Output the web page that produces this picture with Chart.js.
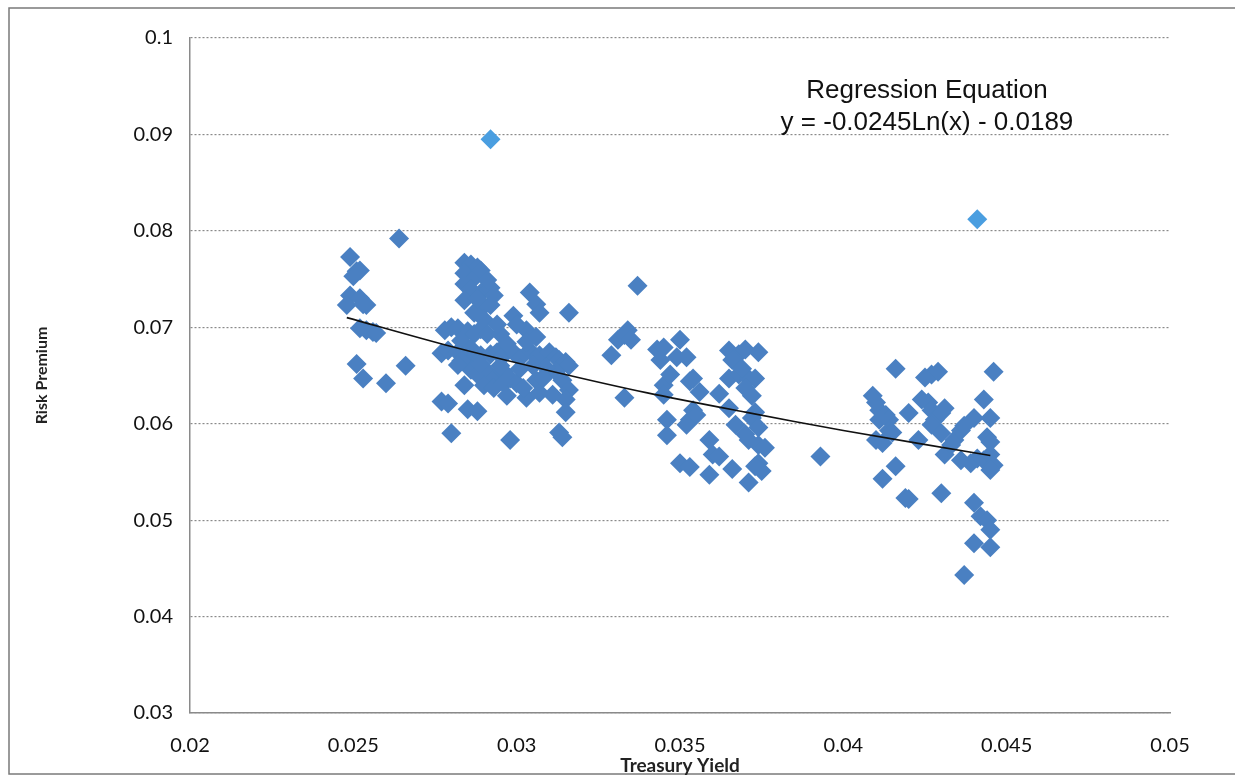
<!DOCTYPE html>
<html>
<head>
<meta charset="utf-8">
<script src="https://cdn.jsdelivr.net/npm/chart.js@4/dist/chart.umd.min.js"></script>
<style>
  html, body { margin: 0; padding: 0; background: #fff; }
  #wrap { width: 1235px; height: 777px; }
</style>
</head>
<body>
<div id="wrap"><canvas id="chart" width="1235" height="777"></canvas></div>
<script>
// treasury yield (x) and risk premium (y)
var yieldX = [
  0.0249,0.0249,0.0248,0.0250,0.0251,0.0252,0.0252,0.0253,0.0254,0.0252,0.0254,0.0256,0.0257,0.0251,0.0253,0.0260,0.0264,0.0266,
  0.0284,0.0286,0.0288,0.0284,0.0287,0.0289,0.0284,0.0286,0.0284,0.0290,0.0292,0.0293,0.0290,0.0287,0.0292,0.0290,0.0299,0.0304,0.0306,0.0307,0.0316,0.0303,
  0.0278,0.0280,0.0282,0.0285,0.0287,0.0289,0.0291,0.0295,
  0.0277,0.0279,0.0282,0.0285,0.0287,0.0289,0.0292,0.0294,0.0296,0.0299,0.0301,0.0304,0.0307,0.0310,0.0312,0.0313,0.0315,0.0316,
  0.0286,0.0288,0.0291,0.0293,0.0296,0.0298,0.0300,0.0284,0.0290,0.0293,0.0296,0.0303,0.0306,0.0309,0.0312,0.0314,0.0316,0.0315,0.0315,0.0307,0.0311,
  0.0277,0.0279,0.0285,0.0288,0.0280,0.0298,0.0313,0.0314,0.0297,
  0.0283,0.0289,0.0295,0.0301,0.0305,0.0309,0.0283,0.0297,0.0303,0.0300,0.0306,0.0294,0.0288,0.0291,0.0308,0.0302,0.0286,0.0282,
  0.0337,0.0329,0.0331,0.0333,0.0334,0.0335,0.0333,0.0343,0.0345,0.0344,0.0350,0.0352,0.0349,0.0345,0.0345,0.0347,0.0346,0.0346,
  0.0353,0.0354,0.0356,0.0354,0.0353,0.0355,0.0352,0.0350,0.0353,0.0359,0.0360,0.0362,0.0359,
  0.0365,0.0368,0.0366,0.0370,0.0365,0.0368,0.0371,0.0373,0.0370,0.0372,0.0373,0.0372,0.0374,0.0367,0.0370,0.0371,0.0374,0.0374,0.0376,
  0.0366,0.0371,0.0374,0.0375,0.0373,0.0365,0.0369,0.0362,0.0393,
  0.0416,0.0409,0.0410,0.0411,0.0413,0.0414,0.0411,0.0410,0.0412,0.0414,0.0415,0.0412,0.0416,0.0420,0.0419,0.0420,0.0423,
  0.0425,0.0427,0.0429,0.0424,0.0426,0.0427,0.0428,0.0427,0.0430,0.0431,0.0430,0.0431,0.0430,0.0433,0.0434,0.0436,0.0437,0.0440,
  0.0436,0.0439,0.0441,0.0443,0.0445,0.0446,0.0445,0.0443,0.0446,0.0445,0.0444,0.0445,
  0.0440,0.0442,0.0444,0.0445,0.0440,0.0445,0.0437
];
var premiumY = [
  0.0773,0.0733,0.0723,0.0753,0.0758,0.0759,0.0730,0.0724,0.0723,0.0699,0.0697,0.0695,0.0694,0.0662,0.0647,0.0642,0.0792,0.0660,
  0.0767,0.0765,0.0762,0.0756,0.0751,0.0759,0.0745,0.0739,0.0728,0.0739,0.0741,0.0733,0.0722,0.0715,0.0723,0.0708,0.0712,0.0736,0.0724,0.0715,0.0715,0.0697,
  0.0697,0.0700,0.0699,0.0696,0.0693,0.0698,0.0693,0.0693,
  0.0673,0.0676,0.0674,0.0670,0.0668,0.0671,0.0672,0.0674,0.0671,0.0674,0.0668,0.0676,0.0671,0.0674,0.0669,0.0666,0.0664,0.0660,
  0.0656,0.0651,0.0654,0.0647,0.0654,0.0647,0.0642,0.0640,0.0640,0.0637,0.0642,0.0627,0.0645,0.0651,0.0654,0.0645,0.0635,0.0625,0.0612,0.0632,0.0630,
  0.0623,0.0621,0.0615,0.0613,0.0590,0.0583,0.0591,0.0586,0.0629,
  0.0665,0.0662,0.0660,0.0657,0.0660,0.0658,0.0686,0.0683,0.0685,0.0703,0.0690,0.0703,0.0729,0.0749,0.0647,0.0637,0.0678,0.0661,
  0.0743,0.0671,0.0687,0.0692,0.0697,0.0687,0.0627,0.0677,0.0679,0.0666,0.0687,0.0669,0.0669,0.0640,0.0630,0.0651,0.0604,0.0588,
  0.0644,0.0647,0.0633,0.0614,0.0604,0.0609,0.0599,0.0559,0.0555,0.0583,0.0568,0.0566,0.0547,
  0.0676,0.0672,0.0666,0.0677,0.0647,0.0651,0.0647,0.0647,0.0637,0.0629,0.0612,0.0606,0.0674,0.0599,0.0589,0.0583,0.0596,0.0578,0.0575,
  0.0553,0.0539,0.0559,0.0551,0.0556,0.0616,0.0657,0.0631,0.0566,
  0.0657,0.0629,0.0622,0.0614,0.0609,0.0604,0.0604,0.0583,0.0580,0.0593,0.0591,0.0543,0.0556,0.0611,0.0523,0.0522,0.0583,
  0.0648,0.0651,0.0654,0.0625,0.0622,0.0614,0.0604,0.0599,0.0611,0.0616,0.0590,0.0568,0.0528,0.0578,0.0583,0.0593,0.0598,0.0606,
  0.0562,0.0559,0.0564,0.0562,0.0568,0.0557,0.0552,0.0625,0.0654,0.0606,0.0586,0.0581,
  0.0518,0.0504,0.0500,0.0490,0.0476,0.0472,0.0443
];
// the two lighter coloured outliers
var outlierX = [0.0292, 0.0441];
var outlierY = [0.0895, 0.0812];

// logarithmic trend line, read at a few x positions
var trendX = [0.0248, 0.0280, 0.0310, 0.0340, 0.0370, 0.0400, 0.0445];
var trendY = [0.0710, 0.0680, 0.0655, 0.0632, 0.0612, 0.0593, 0.0567];

var xTickLabels = ['0.02', '0.025', '0.03', '0.035', '0.04', '0.045', '0.05'];
var yTickLabels = ['0.03', '0.04', '0.05', '0.06', '0.07', '0.08', '0.09', '0.1'];

var equationLines = ['Regression Equation', 'y = -0.0245Ln(x) - 0.0189'];

function toPoints(xs, ys) {
  var pts = [];
  for (var i = 0; i < xs.length; i++) {
    pts.push({ x: xs[i], y: ys[i] });
  }
  return pts;
}

// outer frame and the regression equation text
var extras = {
  id: 'extras',
  beforeDraw: function(chart) {
    var ctx = chart.ctx;
    ctx.save();
    ctx.fillStyle = '#fff';
    ctx.fillRect(0, 0, chart.width, chart.height);
    ctx.strokeStyle = '#7a7a7a';
    ctx.lineWidth = 1.5;
    ctx.strokeRect(9, 8, 1240, 766);
    ctx.restore();
  },
  afterDraw: function(chart) {
    var ctx = chart.ctx;
    var xs = chart.scales.x, ys = chart.scales.y;
    var cx = xs.getPixelForValue(0.04256);
    ctx.save();
    ctx.fillStyle = '#111';
    ctx.font = '26px "Liberation Sans", Arial, sans-serif';
    ctx.textAlign = 'center';
    ctx.textBaseline = 'middle';
    ctx.fillText(equationLines[0], cx, ys.getPixelForValue(0.0945));
    ctx.fillText(equationLines[1], cx, ys.getPixelForValue(0.0912));
    ctx.restore();
  }
};

var tickFont = { family: 'Lato, "Open Sans", sans-serif', size: 20 };

new Chart(document.getElementById('chart'), {
  type: 'scatter',
  data: {
    datasets: [
      {
        type: 'line',
        label: 'Trend',
        data: toPoints(trendX, trendY),
        borderColor: '#111',
        borderWidth: 1.6,
        pointRadius: 0,
        tension: 0.3,
        fill: false,
        order: 0
      },
      {
        label: 'Risk Premium',
        data: toPoints(yieldX, premiumY),
        pointStyle: 'rectRot',
        pointRadius: 10,
        backgroundColor: '#4a80c2',
        borderColor: '#4a80c2',
        borderWidth: 0,
        order: 1
      },
      {
        label: 'Outliers',
        data: toPoints(outlierX, outlierY),
        pointStyle: 'rectRot',
        pointRadius: 10,
        backgroundColor: '#4a9ee0',
        borderColor: '#4a9ee0',
        borderWidth: 0,
        order: 1
      }
    ]
  },
  options: {
    responsive: false,
    animation: false,
    layout: { padding: { left: 0, right: 65, top: 38, bottom: 0 } },
    plugins: {
      legend: { display: false },
      tooltip: { enabled: false }
    },
    scales: {
      x: {
        type: 'linear',
        min: 0.02,
        max: 0.05,
        afterFit: function(scale) { scale.height = 64; },
        ticks: {
          stepSize: 0.005,
          padding: 21,
          color: '#111',
          font: tickFont,
          maxRotation: 0,
          callback: function(v, i) { return xTickLabels[i]; }
        },
        grid: { display: false, drawTicks: false },
        border: { display: true, color: '#8a8a8a', width: 1.5 },
        title: {
          display: true,
          text: 'Treasury Yield',
          color: '#222',
          font: { family: 'Lato, "Open Sans", sans-serif', size: 19, weight: 'bold' },
          padding: { top: 0, bottom: 0 }
        }
      },
      y: {
        type: 'linear',
        min: 0.03,
        max: 0.1,
        afterFit: function(scale) { scale.width = 190; },
        ticks: {
          stepSize: 0.01,
          padding: 17,
          color: '#111',
          font: tickFont,
          callback: function(v, i) { return yTickLabels[i]; }
        },
        grid: {
          drawTicks: false,
          color: '#8a8a8a',
          lineWidth: 1.2
        },
        border: { display: true, color: '#8a8a8a', width: 1.5, dash: [2, 2] },
        title: {
          display: true,
          text: 'Risk Premium',
          color: '#222',
          font: { family: 'Lato, "Open Sans", sans-serif', size: 16, weight: 'bold' },
          padding: { top: 32, bottom: 0 }
        }
      }
    }
  },
  plugins: [extras]
});
</script>
</body>
</html>
